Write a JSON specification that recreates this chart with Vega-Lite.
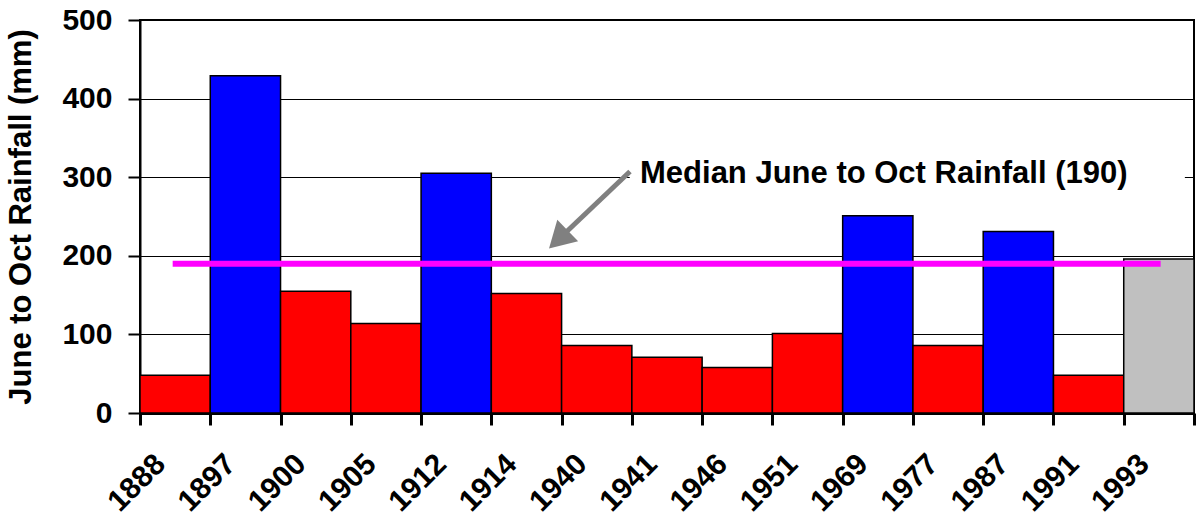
{
  "$schema": "https://vega.github.io/schema/vega-lite/v6.json",
  "autosize": "none",
  "width": 1054,
  "height": 393,
  "padding": {"left": 140, "top": 20, "right": 2, "bottom": 104},
  "background": "white",
  "view": {"stroke": "black", "strokeWidth": 2},
  "config": {
    "font": "Liberation Sans",
    "axis": {"labelFont": "Liberation Sans", "titleFont": "Liberation Sans", "labelColor": "black", "titleColor": "black"}
  },
  "resolve": {"scale": {"x": "independent"}},
  "layer": [
    {
      "data": {
        "values": [
          {"year": "1888", "rain": 48, "group": "below"},
          {"year": "1897", "rain": 429, "group": "above"},
          {"year": "1900", "rain": 155, "group": "below"},
          {"year": "1905", "rain": 114, "group": "below"},
          {"year": "1912", "rain": 305, "group": "above"},
          {"year": "1914", "rain": 152, "group": "below"},
          {"year": "1940", "rain": 86, "group": "below"},
          {"year": "1941", "rain": 71, "group": "below"},
          {"year": "1946", "rain": 58, "group": "below"},
          {"year": "1951", "rain": 101, "group": "below"},
          {"year": "1969", "rain": 251, "group": "above"},
          {"year": "1977", "rain": 86, "group": "below"},
          {"year": "1987", "rain": 231, "group": "above"},
          {"year": "1991", "rain": 48, "group": "below"},
          {"year": "1993", "rain": 196, "group": "current"}
        ]
      },
      "mark": {"type": "bar", "stroke": "black", "strokeWidth": 1.5},
      "encoding": {
        "x": {
          "field": "year", "type": "nominal", "sort": null,
          "scale": {"paddingInner": 0, "paddingOuter": 0},
          "axis": {
            "title": null,
            "labelAngle": -45, "labelAlign": "right", "labelBaseline": "middle",
            "labelFontSize": 30, "labelFontWeight": "bold",
            "labelOffset": -15, "labelPadding": 34,
            "tickBand": "extent", "tickSize": 12, "tickWidth": 3, "tickColor": "black",
            "domainColor": "black", "domainWidth": 3, "grid": false
          }
        },
        "y": {
          "field": "rain", "type": "quantitative",
          "scale": {"domain": [0, 500], "nice": false},
          "axis": {
            "title": "June to Oct Rainfall (mm)",
            "titleFontSize": 31, "titleFontWeight": "bold", "titlePadding": 24,
            "values": [0, 100, 200, 300, 400, 500],
            "labelFontSize": 30, "labelFontWeight": "bold", "labelPadding": 16,
            "tickSize": 12, "tickWidth": 2, "tickColor": "black",
            "domainColor": "black", "domainWidth": 2,
            "grid": true, "gridColor": "black", "gridWidth": 1, "gridOpacity": 1
          }
        },
        "color": {
          "field": "group", "type": "nominal",
          "scale": {"domain": ["below", "above", "current"], "range": ["#FF0000", "#0000FF", "#C0C0C0"]},
          "legend": null
        }
      }
    },
    {
      "data": {"values": [{"note": "median"}]},
      "layer": [
        {
          "mark": {"type": "rect", "fill": "white"},
          "encoding": {
            "x": {"datum": 6.97, "type": "quantitative", "scale": {"domain": [0, 15], "nice": false, "zero": false}, "axis": null},
            "x2": {"datum": 14.87},
            "y": {"datum": 280, "type": "quantitative"},
            "y2": {"datum": 320}
          }
        },
        {
          "data": {"values": [{"pos": 0.465, "median": 190}, {"pos": 14.525, "median": 190}]},
          "mark": {"type": "line", "color": "#FF00FF", "strokeWidth": 6},
          "encoding": {
            "x": {"field": "pos", "type": "quantitative", "scale": {"domain": [0, 15], "nice": false, "zero": false}, "axis": null},
            "y": {"field": "median", "type": "quantitative"}
          }
        },
        {
          "mark": {"type": "rule", "color": "#808080", "strokeWidth": 5},
          "encoding": {
            "x": {"datum": 6.973, "type": "quantitative", "scale": {"domain": [0, 15], "nice": false, "zero": false}, "axis": null},
            "x2": {"datum": 5.954},
            "y": {"datum": 307.3, "type": "quantitative"},
            "y2": {"datum": 220.8}
          }
        },
        {
          "mark": {"type": "point", "shape": "triangle-up", "filled": true, "color": "#808080", "size": 900, "angle": 226, "opacity": 1},
          "encoding": {
            "x": {"datum": 5.954, "type": "quantitative", "scale": {"domain": [0, 15], "nice": false, "zero": false}, "axis": null},
            "y": {"datum": 220.8, "type": "quantitative"}
          }
        },
        {
          "mark": {"type": "text", "text": "Median June to Oct Rainfall (190)", "align": "left", "baseline": "alphabetic", "fontSize": 31, "fontWeight": "bold", "font": "Liberation Sans", "color": "black"},
          "encoding": {
            "x": {"datum": 7.116, "type": "quantitative", "scale": {"domain": [0, 15], "nice": false, "zero": false}, "axis": null},
            "y": {"datum": 292, "type": "quantitative"}
          }
        }
      ]
    }
  ]
}
